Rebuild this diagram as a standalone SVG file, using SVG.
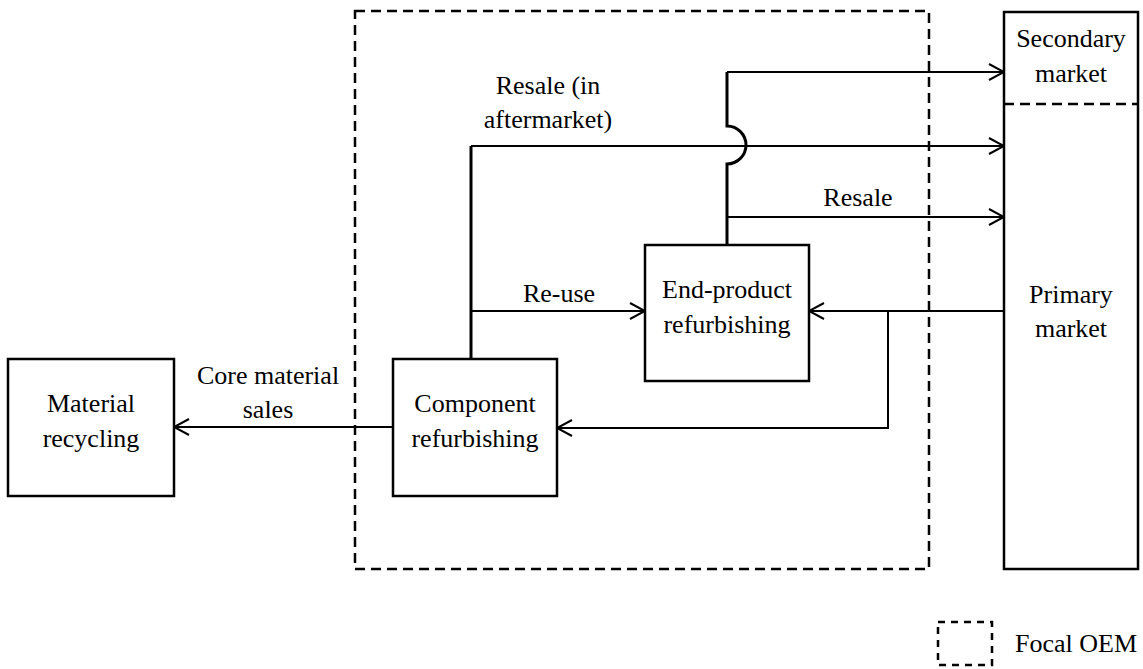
<svg xmlns="http://www.w3.org/2000/svg" width="1143" height="669" viewBox="0 0 1143 669">
<defs>
<marker id="ah" markerUnits="userSpaceOnUse" viewBox="-17 -10 19 20" refX="0" refY="0" markerWidth="19" markerHeight="20" orient="auto">
<path d="M-15,-8 L0,0 L-15,8" fill="none" stroke="#000" stroke-width="2"/>
</marker>
</defs>
<rect id="focal-oem" x="355" y="11" width="574" height="558" fill="none" stroke="#000" stroke-width="2.5" stroke-dasharray="10 6"/>
<g id="connectors" fill="none" stroke="#000" stroke-width="2">
<path stroke-width="3" d="M727,245 V164 A19,19 0 0,0 727,126 V72"/>
<path d="M727,72 H1004" marker-end="url(#ah)"/>
<path stroke-width="3" d="M471,359 V146"/>
<path d="M471,146 H1004" marker-end="url(#ah)"/>
<path d="M471,311 H645" marker-end="url(#ah)"/>
<path d="M727,217 H1004" marker-end="url(#ah)"/>
<path d="M1004,311 H809" marker-end="url(#ah)"/>
<path d="M888,311 V428 H557" marker-end="url(#ah)"/>
<path d="M393,427 H174" marker-end="url(#ah)"/>
</g>
<g id="connector-labels">
<text x="548" y="94" font-family="Liberation Serif" font-size="26" text-anchor="middle">Resale (in</text>
<text x="548" y="128" font-family="Liberation Serif" font-size="26" text-anchor="middle">aftermarket)</text>
<text x="858" y="206" font-family="Liberation Serif" font-size="26" text-anchor="middle">Resale</text>
<text x="559" y="302" font-family="Liberation Serif" font-size="26" text-anchor="middle">Re-use</text>
<text x="268" y="384" font-family="Liberation Serif" font-size="26" text-anchor="middle">Core material</text>
<text x="268" y="418" font-family="Liberation Serif" font-size="26" text-anchor="middle">sales</text>
</g>
<g id="material-recycling">
<rect x="8" y="359" width="166" height="137" fill="#fff" stroke="#000" stroke-width="2.5"/>
<text x="91" y="412" font-family="Liberation Serif" font-size="26" text-anchor="middle">Material</text>
<text x="91" y="447" font-family="Liberation Serif" font-size="26" text-anchor="middle">recycling</text>
</g>
<g id="component-refurbishing">
<rect x="393" y="359" width="164" height="137" fill="#fff" stroke="#000" stroke-width="2.5"/>
<text x="475" y="412" font-family="Liberation Serif" font-size="26" text-anchor="middle">Component</text>
<text x="475" y="447" font-family="Liberation Serif" font-size="26" text-anchor="middle">refurbishing</text>
</g>
<g id="end-product-refurbishing">
<rect x="645" y="245" width="164" height="136" fill="#fff" stroke="#000" stroke-width="2.5"/>
<text x="727" y="298" font-family="Liberation Serif" font-size="26" text-anchor="middle">End-product</text>
<text x="727" y="333" font-family="Liberation Serif" font-size="26" text-anchor="middle">refurbishing</text>
</g>
<g id="markets">
<rect x="1004" y="12" width="134" height="557" fill="#fff" stroke="#000" stroke-width="2.5"/>
<line x1="1004" y1="104" x2="1138" y2="104" stroke="#000" stroke-width="2.5" stroke-dasharray="10 6"/>
<text x="1071" y="47" font-family="Liberation Serif" font-size="26" text-anchor="middle">Secondary</text>
<text x="1071" y="82" font-family="Liberation Serif" font-size="26" text-anchor="middle">market</text>
<text x="1071" y="303" font-family="Liberation Serif" font-size="26" text-anchor="middle">Primary</text>
<text x="1071" y="337" font-family="Liberation Serif" font-size="26" text-anchor="middle">market</text>
</g>
<g id="legend">
<rect x="938" y="622" width="54" height="43" fill="none" stroke="#000" stroke-width="2.5" stroke-dasharray="7 6"/>
<text x="1015" y="652" font-family="Liberation Serif" font-size="26">Focal OEM</text>
</g>
</svg>
